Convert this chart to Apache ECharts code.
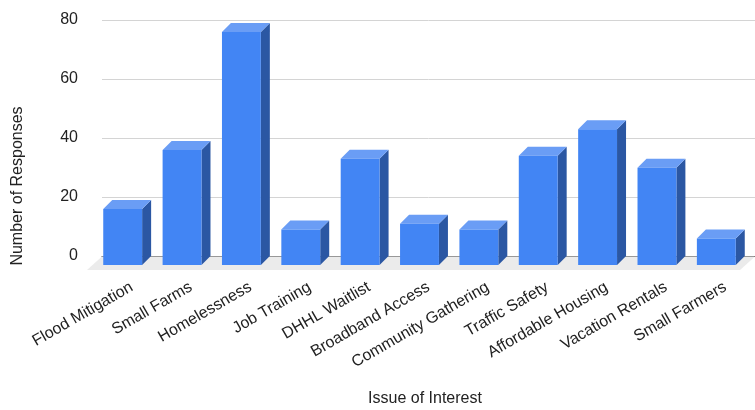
<!DOCTYPE html>
<html>
<head>
<meta charset="utf-8">
<script src="https://cdn.jsdelivr.net/npm/echarts@6/dist/echarts.min.js"></script>
<style>
html,body{margin:0;padding:0;background:#fff;}
#chart{width:755px;height:410px;}
</style>
</head>
<body>
<div id="chart"></div>
<script>
var categories = ["Flood Mitigation", "Small Farms", "Homelessness", "Job Training", "DHHL Waitlist", "Broadband Access", "Community Gathering", "Traffic Safety", "Affordable Housing", "Vacation Rentals", "Small Farmers"];
var responses = [19, 39, 79, 12, 36, 14, 12, 37, 46, 33, 9];
var yTicks = [0, 20, 40, 60, 80];
var yAxisTitle = "Number of Responses";
var xAxisTitle = "Issue of Interest";

var FONT = "'Liberation Sans', Arial, sans-serif";
var DEPTH = 9;

function renderBar(params, api) {
  var i = api.value(0), v = api.value(1);
  var top = api.coord([i, v]);
  var base = api.coord([i, 0]);
  var bw = api.size([1, 0])[0] * 0.655;
  var bx0 = top[0] - bw / 2, bx1 = top[0] + bw / 2;
  var fx0 = bx0 - DEPTH, fx1 = bx1 - DEPTH;
  var fTop = top[1] + DEPTH, fBot = base[1] + DEPTH;
  return {
    type: 'group',
    children: [
      { type: 'polygon', shape: { points: [[fx1, fTop], [bx1, top[1]], [bx1, base[1]], [fx1, fBot]] }, style: { fill: '#2b57a3' } },
      { type: 'polygon', shape: { points: [[fx0, fTop], [fx1, fTop], [bx1, top[1]], [bx0, top[1]]] }, style: { fill: '#6a9df5' } },
      { type: 'rect', shape: { x: fx0, y: fTop, width: bw, height: fBot - fTop }, style: { fill: '#4285f4' } }
    ]
  };
}

function renderFloor(params, api) {
  var cs = params.coordSys;
  var y0 = cs.y + cs.height;
  return {
    type: 'polygon',
    shape: { points: [[cs.x, y0 + 0.6], [cs.x + cs.width, y0 + 0.6], [cs.x + cs.width - 15, y0 + 14], [cs.x - 15, y0 + 14]] },
    style: { fill: '#ebebeb' }
  };
}

var chart = echarts.init(document.getElementById('chart'), null, { renderer: 'canvas' });
chart.setOption({
  animation: false,
  backgroundColor: '#ffffff',
  grid: { left: 102, right: -2, top: 20, bottom: 154, containLabel: false },
  xAxis: {
    type: 'category',
    data: categories,
    axisLine: { show: true, lineStyle: { color: '#444', width: 1 } },
    axisTick: { show: false },
    axisLabel: { interval: 0, rotate: 30, margin: 30, fontSize: 16, color: '#222', fontFamily: FONT }
  },
  yAxis: {
    type: 'value',
    min: yTicks[0],
    max: yTicks[yTicks.length - 1],
    interval: yTicks[1] - yTicks[0],
    axisLine: { show: false },
    axisTick: { show: false },
    axisLabel: { margin: 24, fontSize: 16, color: '#222', fontFamily: FONT },
    splitLine: { lineStyle: { color: '#d4d4d4', width: 1 } }
  },
  graphic: [
    { type: 'text', x: 18, y: 186, rotation: Math.PI / 2, style: { text: yAxisTitle, font: '16px ' + FONT, fill: '#222', align: 'center', verticalAlign: 'middle' } },
    { type: 'text', x: 425, y: 399, style: { text: xAxisTitle, font: '16px ' + FONT, fill: '#222', align: 'center', verticalAlign: 'middle' } }
  ],
  series: [
    { type: 'custom', z: 1, silent: true, renderItem: renderFloor, data: [[0, 0]], encode: { x: 0, y: 1 } },
    { type: 'custom', z: 3, renderItem: renderBar, data: categories.map(function (c, i) { return [i, responses[i]]; }), encode: { x: 0, y: 1 } }
  ]
});
</script>
</body>
</html>
